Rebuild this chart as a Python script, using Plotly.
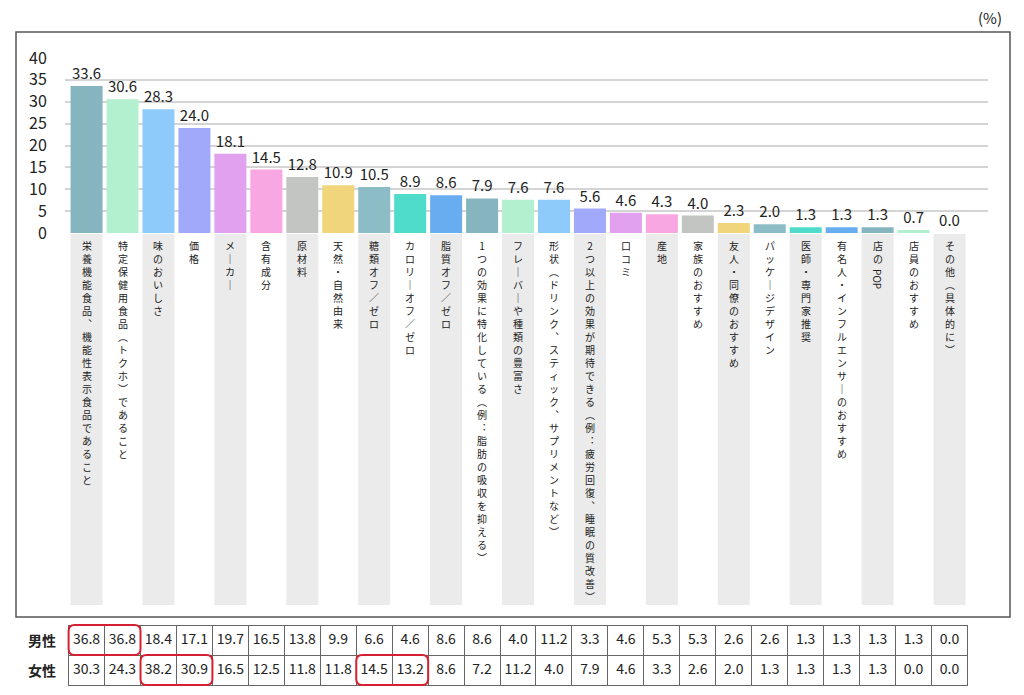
import plotly.graph_objects as go

# 購入時に重視する点（全体 / 男性 / 女性）
categories = [
    "栄養機能食品、機能性表示食品であること",
    "特定保健用食品（トクホ）であること",
    "味のおいしさ",
    "価格",
    "メーカー",
    "含有成分",
    "原材料",
    "天然・自然由来",
    "糖類オフ／ゼロ",
    "カロリーオフ／ゼロ",
    "脂質オフ／ゼロ",
    "1つの効果に特化している（例：脂肪の吸収を抑える）",
    "フレーバーや種類の豊富さ",
    "形状（ドリンク、スティック、サプリメントなど）",
    "2つ以上の効果が期待できる（例：疲労回復、睡眠の質改善）",
    "口コミ",
    "産地",
    "家族のおすすめ",
    "友人・同僚のおすすめ",
    "パッケージデザイン",
    "医師・専門家推奨",
    "有名人・インフルエンサーのおすすめ",
    "店の POP",
    "店員のおすすめ",
    "その他（具体的に）",
]
total = [33.6, 30.6, 28.3, 24.0, 18.1, 14.5, 12.8, 10.9, 10.5, 8.9, 8.6, 7.9, 7.6,
         7.6, 5.6, 4.6, 4.3, 4.0, 2.3, 2.0, 1.3, 1.3, 1.3, 0.7, 0.0]
male = [36.8, 36.8, 18.4, 17.1, 19.7, 16.5, 13.8, 9.9, 6.6, 4.6, 8.6, 8.6, 4.0,
        11.2, 3.3, 4.6, 5.3, 5.3, 2.6, 2.6, 1.3, 1.3, 1.3, 1.3, 0.0]
female = [30.3, 24.3, 38.2, 30.9, 16.5, 12.5, 11.8, 11.8, 14.5, 13.2, 8.6, 7.2, 11.2,
          4.0, 7.9, 4.6, 3.3, 2.6, 2.0, 1.3, 1.3, 1.3, 1.3, 0.0, 0.0]
row_labels = ["男性", "女性"]
y_ticks = [0, 5, 10, 15, 20, 25, 30, 35, 40]
# (row, first col, last col) of the red boxes in the table
highlights = [(0, 0, 1), (1, 2, 3), (1, 8, 9)]

palette = ["#86b4bf", "#b3f0cf", "#8ecafa", "#a1a9fb", "#e2a1ee", "#f8a7e2",
           "#c3c5c2", "#f0d57b", "#8cbcc6", "#4fdccb", "#69adf1"]
colors = [palette[i % len(palette)] for i in range(len(categories))]

FONT = "Noto Sans CJK JP"
# the page puts the plot 8px in from the top-left corner
OFF = 8
W, H = 1024 - OFF, 695 - OFF


def px(x):
    return (x - OFF) / W


def py(y):
    return 1 - (y - OFF) / H


# vertical forms for the stacked labels
tate_map = {"（": "︵", "）": "︶", "、": "︑", "ー": "｜", "：": "︓"}
LAB_SIZE = 10
LAB_PITCH = LAB_SIZE * 1.3   # plotly line spacing
LAB_TOP = 237


def label_runs(s):
    # latin words are laid sideways, everything else stands upright
    runs, up, word = [], [], ""
    for c in s:
        if c.isascii() and c.isalpha():
            if up:
                runs.append((up, False))
                up = []
            word += c
            continue
        if word:
            runs.append((word, True))
            word = ""
        if c == " ":
            if up:
                runs.append((up, False))
                up = []
            runs.append((" ", None))
        else:
            up.append(tate_map.get(c, c))
    if up:
        runs.append((up, False))
    if word:
        runs.append((word, True))
    return runs


# x range in category units so that the columns line up with the table
x0_rng, x1_rng = -0.6, 25.07

fig = go.Figure()
fig.add_trace(go.Bar(
    x=list(range(len(categories))), y=total,
    marker=dict(color=colors, line=dict(width=0)),
    text=[f"{v:.1f}" for v in total], textposition="outside",
    textfont=dict(size=15, color="#222", family=FONT),
    cliponaxis=False, showlegend=False,
    customdata=categories, hovertemplate="%{customdata}: %{y:.1f}<extra></extra>",
))

fig.add_trace(go.Table(
    domain=dict(x=[px(68.5), px(968)], y=[py(692), py(625)]),
    columnwidth=[1] * len(categories),
    header=dict(values=[f"{v:.1f}" for v in male], height=30,
                fill_color="white", line=dict(color="#666", width=1),
                font=dict(size=14, color="#222", family=FONT), align="center"),
    cells=dict(values=[[f"{v:.1f}"] for v in female], height=30,
               fill_color="white", line=dict(color="#666", width=1),
               font=dict(size=14, color="#222", family=FONT), align="center"),
))

shapes = []
# outer frame
shapes.append(dict(type="rect", xref="paper", yref="paper",
                   x0=px(16), x1=px(1010), y0=py(617), y1=py(32),
                   line=dict(color="#555", width=1.5), layer="below"))
# gray label strips
for i in range(0, len(categories), 2):
    shapes.append(dict(type="rect", xref="x", yref="paper",
                       x0=i - 0.445, x1=i + 0.445, y0=py(605), y1=py(234),
                       fillcolor="#ebebeb", line=dict(width=0), layer="below"))
# red rounded boxes
row_top = [625, 655]
for r, c0, c1 in highlights:
    xa, xb = c0 - 0.5, c1 + 0.5
    ya, yb = py(row_top[r] + 30), py(row_top[r])
    rx, ry = 6 / 35.96, 6 / H
    path = (f"M{xa + rx},{yb} L{xb - rx},{yb} Q{xb},{yb} {xb},{yb - ry} "
            f"L{xb},{ya + ry} Q{xb},{ya} {xb - rx},{ya} L{xa + rx},{ya} "
            f"Q{xa},{ya} {xa},{ya + ry} L{xa},{yb - ry} Q{xa},{yb} {xa + rx},{yb} Z")
    shapes.append(dict(type="path", xref="x", yref="paper", path=path,
                       line=dict(color="#d42030", width=2)))

annotations = [dict(text="(%)", xref="paper", yref="paper", x=px(1004), y=py(18),
                    xanchor="right", yanchor="middle", showarrow=False,
                    font=dict(size=15, color="#222", family=FONT))]
for k, lab in enumerate(row_labels):
    annotations.append(dict(text=f"<b>{lab}</b>", xref="paper", yref="paper",
                            x=px(58), y=py(row_top[k] + 15), xanchor="right",
                            yanchor="middle", showarrow=False,
                            font=dict(size=14, color="#222", family=FONT)))

# vertical category labels
lab_font = dict(size=LAB_SIZE, color="#222", family=FONT)
for i, cat in enumerate(categories):
    pos = LAB_TOP
    for run, sideways in label_runs(cat):
        if sideways is None:
            pos += LAB_PITCH * 0.4
        elif sideways:
            h = len(run) * LAB_SIZE * 0.7
            annotations.append(dict(text=run, xref="x", yref="paper", x=i,
                                    y=py(pos + h / 2), textangle=90,
                                    showarrow=False, xanchor="center",
                                    yanchor="middle", borderpad=0,
                                    font=lab_font))
            pos += h + 3
        else:
            annotations.append(dict(text="<br>".join(run), xref="x",
                                    yref="paper", x=i, y=py(pos),
                                    showarrow=False, xanchor="center",
                                    yanchor="top", borderpad=0, align="center",
                                    font=lab_font))
            pos += len(run) * LAB_PITCH

fig.update_layout(
    width=W, height=H,
    margin=dict(l=0, r=0, t=0, b=0),
    paper_bgcolor="white", plot_bgcolor="white",
    font=dict(family=FONT, color="#222"),
    bargap=0.11,
    shapes=shapes, annotations=annotations,
    xaxis=dict(domain=[px(65), px(988)], range=[x0_rng, x1_rng],
               showticklabels=False, ticks="", showgrid=False, showline=False,
               zeroline=False, automargin=False),
    yaxis=dict(domain=[py(233), py(58)], range=[0, 40], tickvals=y_ticks,
               tickfont=dict(size=16, color="#222", family=FONT),
               ticks="outside", ticklen=14, tickcolor="rgba(0,0,0,0)",
               showgrid=True, gridcolor="#d4d4d4", gridwidth=1.5,
               zeroline=False, showline=False, automargin=False),
)

fig.write_html("out.html")
